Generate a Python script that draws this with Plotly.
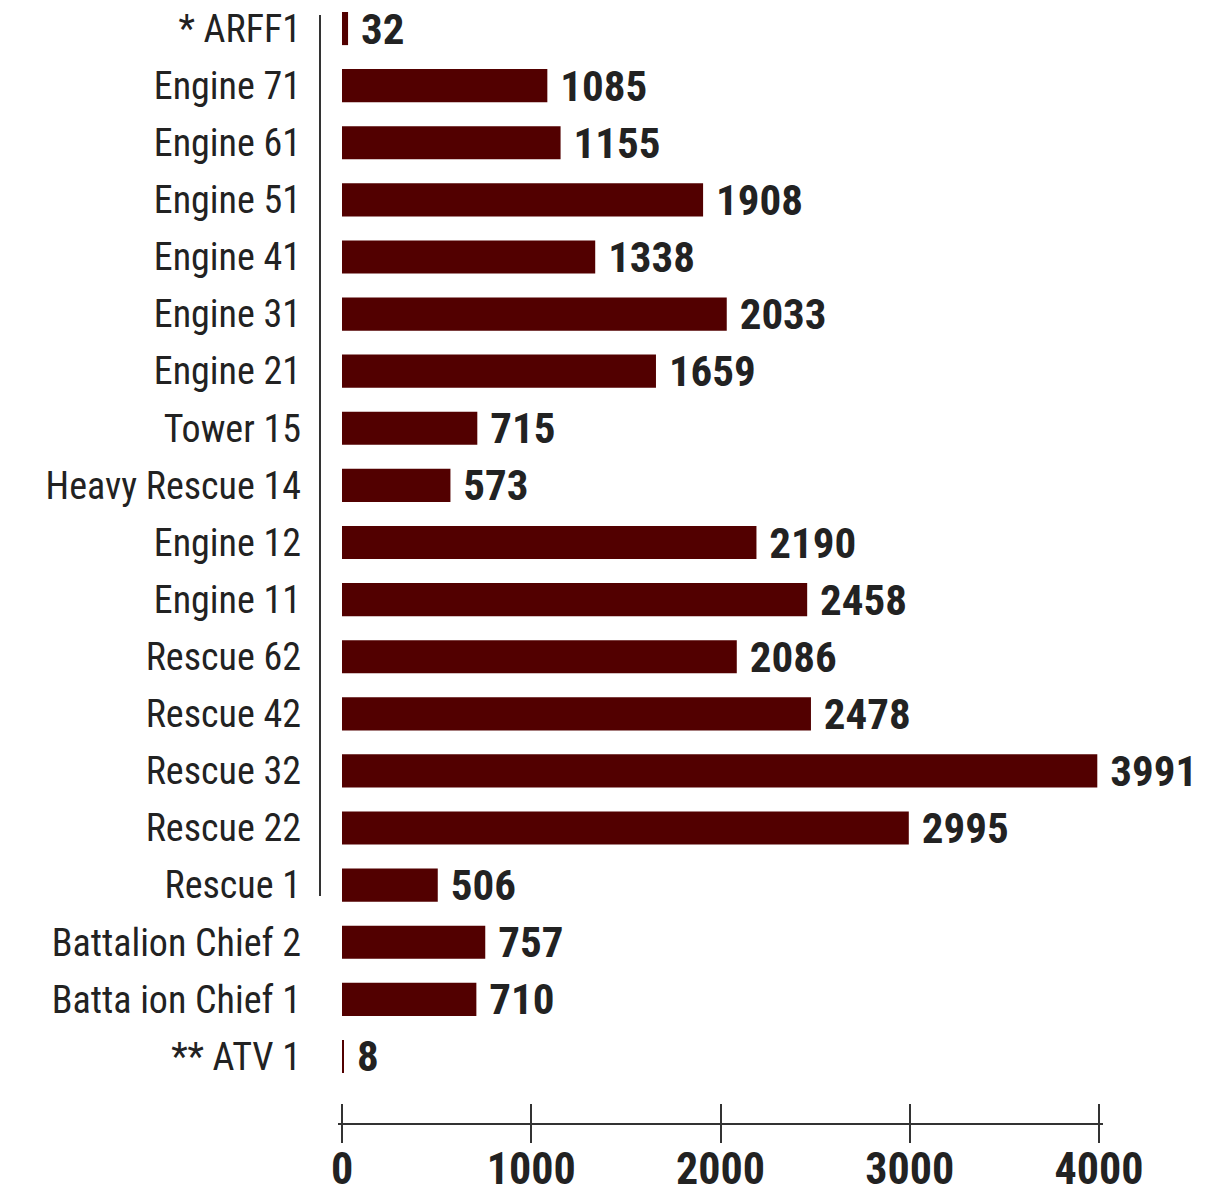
import plotly.graph_objects as go

units = ["* ARFF1", "Engine 71", "Engine 61", "Engine 51", "Engine 41", "Engine 31",
         "Engine 21", "Tower 15", "Heavy Rescue 14", "Engine 12", "Engine 11",
         "Rescue 62", "Rescue 42", "Rescue 32", "Rescue 22", "Rescue 1",
         "Battalion Chief 2", "Batta ion Chief 1", "** ATV 1"]
calls = [32, 1085, 1155, 1908, 1338, 2033, 1659, 715, 573, 2190, 2458,
         2086, 2478, 3991, 2995, 506, 757, 710, 8]
x_ticks = [0, 1000, 2000, 3000, 4000]
x_ticktext = ["0", "1000", "2000", "3000", "4000"]

BAR = "#520000"
INK = "#222222"
LINE = "#333333"
FONT = "Roboto Condensed, Liberation Sans Narrow, sans-serif"

W, H = 1225, 1192
ML, MR, MT, MB = 300, 122, 0, 49
pw = W - ML - MR          # paper width in px
ph = H - MT - MB          # paper height in px
X0_PX, X1_PX = 342, 1099  # pixel span of the value axis
x_range = [0, 4000]
x_dom = [(X0_PX - ML) / pw, (X1_PX - ML) / pw]

# axis strip is a few px wider so that the end ticks are not clipped
PAD = 4
upp = (x_range[1] - x_range[0]) / (X1_PX - X0_PX)
x2_dom = [(X0_PX - PAD - ML) / pw, (X1_PX + PAD - ML) / pw]
x2_range = [x_range[0] - PAD * upp, x_range[1] + PAD * upp]

fig = go.Figure()
fig.add_trace(go.Bar(
    x=calls, y=units, orientation="h",
    xaxis="x", yaxis="y",
    marker=dict(color=BAR, line=dict(width=0)),
    text=["\u00a0" + str(v) for v in calls],
    textposition="outside",
    constraintext="none",
    cliponaxis=False,
    textfont=dict(family=FONT, size=43, color=INK, weight="bold"),
    hoverinfo="skip",
))
# empty traces so that the axis-strip and divider subplots get drawn
fig.add_trace(go.Scatter(x=[], y=[], xaxis="x2", yaxis="y3", mode="markers",
                         hoverinfo="skip", showlegend=False))
fig.add_trace(go.Scatter(x=[], y=[], xaxis="x3", yaxis="y4", mode="markers",
                         hoverinfo="skip", showlegend=False))

fig.update_layout(
    width=W, height=H,
    margin=dict(l=ML, r=MR, t=MT, b=MB),
    paper_bgcolor="white", plot_bgcolor="rgba(0,0,0,0)",
    showlegend=False,
    bargap=0.42,
    # bar subplot
    xaxis=dict(
        domain=x_dom, range=x_range, anchor="y",
        showgrid=False, zeroline=False, showline=False,
        ticks="", showticklabels=False, automargin=False,
    ),
    yaxis=dict(
        domain=[(ph - 1085) / ph, 1.0], anchor="x",
        categoryorder="array", categoryarray=units,
        range=[18.5, -0.5],
        showgrid=False, zeroline=False, showline=False,
        ticks="", ticklabelstandoff=40, automargin=False,
        tickfont=dict(family=FONT, size=38, color=INK),
    ),
    # value axis strip at the bottom
    xaxis2=dict(
        domain=x2_dom, range=x2_range, anchor="y3",
        tickvals=x_ticks, ticktext=x_ticktext,
        showgrid=False, zeroline=False, showline=False,
        ticks="inside", ticklen=39, tickwidth=2, tickcolor=LINE,
        ticklabelstandoff=-4, automargin=False,
        tickfont=dict(family=FONT, size=44, color=INK, weight="bold"),
    ),
    yaxis3=dict(
        domain=[0, 39 / ph], range=[-1, 1], anchor="x2",
        showgrid=False, showline=False, ticks="", showticklabels=False,
        zeroline=True, zerolinecolor=LINE, zerolinewidth=2,
    ),
    # partial vertical divider line
    xaxis3=dict(
        domain=[10 / pw, 30 / pw], range=[-1, 1], anchor="y4",
        showgrid=False, showline=False, ticks="", showticklabels=False,
        zeroline=True, zerolinecolor=LINE, zerolinewidth=2,
    ),
    yaxis4=dict(
        domain=[(ph - 896) / ph, (ph - 15) / ph], range=[0, 1], anchor="x3",
        showgrid=False, showline=False, ticks="", showticklabels=False,
        zeroline=False,
    ),
)

fig.write_html("out.html", config={"displayModeBar": False},
               post_script="document.body.style.margin='0';")
